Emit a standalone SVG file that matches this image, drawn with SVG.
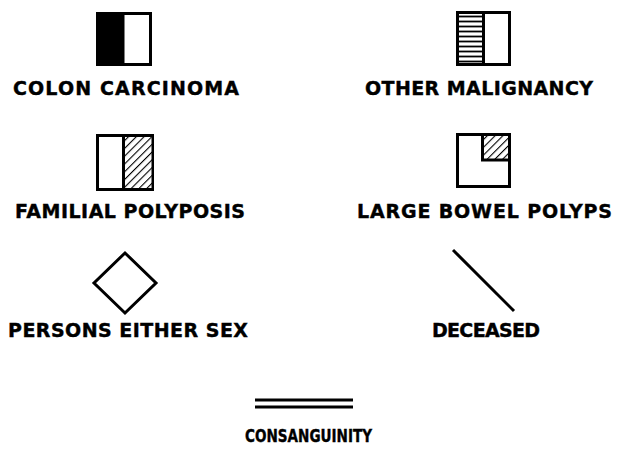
<svg xmlns="http://www.w3.org/2000/svg" width="617" height="449" viewBox="0 0 617 449">
<style>
.lbl{font-family:"DejaVu Sans","Liberation Sans",sans-serif;font-weight:bold;font-size:19px;fill:#000;stroke:#000;stroke-width:0.4}
.box{fill:#fff;stroke:#000;stroke-width:3}
.ln{stroke:#000;stroke-width:3;fill:none}
</style>
<defs>
<pattern id="diag" patternUnits="userSpaceOnUse" width="5.5" height="5.5" patternTransform="rotate(45)">
<rect width="5.5" height="5.5" fill="#fff"/>
<line x1="0" y1="0" x2="0" y2="5.5" stroke="#000" stroke-width="2.2"/>
</pattern>
<pattern id="horiz" patternUnits="userSpaceOnUse" x="0" y="14" width="5" height="5">
<rect width="5" height="5" fill="#fff"/>
<line x1="0" y1="2.5" x2="5" y2="2.5" stroke="#000" stroke-width="1.8"/>
</pattern>
</defs>
<rect width="617" height="449" fill="#fff"/>
<g id="colon-carcinoma">
<rect class="box" x="97.5" y="13.5" width="53" height="51"/>
<rect x="97.5" y="13.5" width="27" height="51" fill="#000"/>
<text class="lbl" x="13" y="95" textLength="226" lengthAdjust="spacing">COLON CARCINOMA</text>
</g>
<g id="other-malignancy">
<rect class="box" x="457.5" y="12.5" width="52" height="52"/>
<rect x="459" y="14" width="24" height="49" fill="url(#horiz)"/>
<line class="ln" x1="483.5" y1="12.5" x2="483.5" y2="64.5"/>
<text class="lbl" x="365" y="95" textLength="228" lengthAdjust="spacing">OTHER MALIGNANCY</text>
</g>
<g id="familial-polyposis">
<rect class="box" x="97.5" y="135.5" width="55" height="54"/>
<rect x="124" y="137" width="27.5" height="51" fill="url(#diag)"/>
<line class="ln" x1="123.5" y1="135.5" x2="123.5" y2="189.5"/>
<text class="lbl" x="15" y="218" textLength="230" lengthAdjust="spacing">FAMILIAL POLYPOSIS</text>
</g>
<g id="large-bowel-polyps">
<rect class="box" x="457.5" y="134.5" width="52" height="52"/>
<rect x="482.5" y="134.5" width="27" height="25.5" fill="url(#diag)" stroke="#000" stroke-width="3"/>
<text class="lbl" x="357" y="218" textLength="255" lengthAdjust="spacing">LARGE BOWEL POLYPS</text>
</g>
<g id="persons-either-sex">
<polygon class="box" points="125,253 156,283 125,313 94,283"/>
<text class="lbl" x="8" y="337" textLength="240" lengthAdjust="spacing">PERSONS EITHER SEX</text>
</g>
<g id="deceased">
<line class="ln" x1="453" y1="250" x2="514" y2="311"/>
<text class="lbl" x="432" y="337" textLength="108" lengthAdjust="spacing">DECEASED</text>
</g>
<g id="consanguinity">
<line class="ln" x1="255" y1="400" x2="353" y2="400"/>
<line class="ln" x1="255" y1="407" x2="353" y2="407"/>
<text class="lbl" x="245" y="442" style="font-size:17px" textLength="127" lengthAdjust="spacingAndGlyphs">CONSANGUINITY</text>
</g>
<g id="connectors"/>
</svg>
